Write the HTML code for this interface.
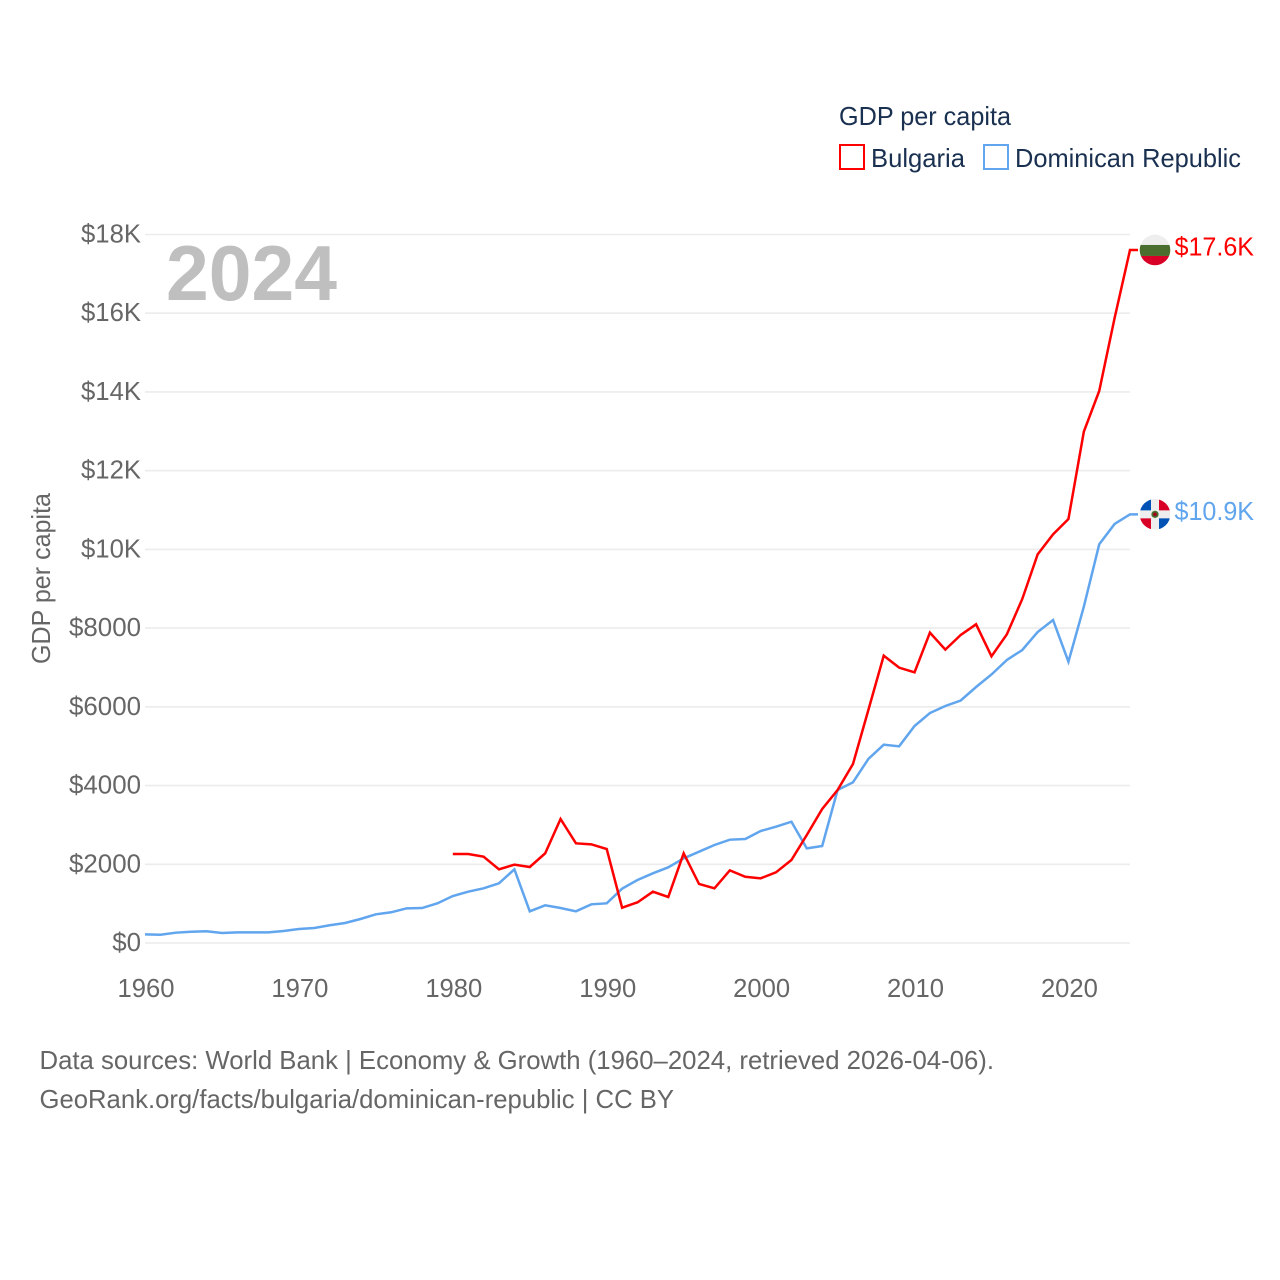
<!DOCTYPE html>
<html lang="en">
<head>
<meta charset="utf-8">
<title>GDP per capita: Bulgaria and Dominican Republic</title>
<style>
html,body{margin:0;padding:0;background:#fff;width:1280px;height:1280px;overflow:hidden}
svg{display:block}
text{font-family:"Liberation Sans",sans-serif;font-size:26px}
</style>
</head>
<body>
<svg id="chart" xmlns="http://www.w3.org/2000/svg" width="1280" height="1280" viewBox="0 0 1280 1280">
  <rect x="0" y="0" width="1280" height="1280" fill="#ffffff"/>
  <g id="grid"></g>
  <g id="yticks"></g>
  <g id="xticks"></g>
  <text x="166" y="300" textLength="171" lengthAdjust="spacingAndGlyphs" style="font-size:78px;font-weight:700" fill="#bfbfbf">2024</text>
  <text transform="translate(50,664) rotate(-90)" textLength="171" lengthAdjust="spacingAndGlyphs" fill="#666666">GDP per capita</text>
  <g id="series"></g>
  <g id="ends"></g>
  <g>
    <text x="839" y="125" textLength="172" lengthAdjust="spacingAndGlyphs" fill="#1a3050">GDP per capita</text>
    <g>
      <rect x="840" y="145" width="24" height="24" fill="#ffffff" stroke="#ff0000" stroke-width="2"/>
      <text x="871" y="167" textLength="94" lengthAdjust="spacingAndGlyphs" fill="#1a3050">Bulgaria</text>
    </g>
    <g>
      <rect x="984" y="145" width="24" height="24" fill="#ffffff" stroke="#60a5ee" stroke-width="2"/>
      <text x="1015" y="167" textLength="226" lengthAdjust="spacingAndGlyphs" fill="#1a3050">Dominican Republic</text>
    </g>
  </g>
  <text x="39.5" y="1069" textLength="954.5" lengthAdjust="spacingAndGlyphs" fill="#666666">Data sources: World Bank | Economy &amp; Growth (1960–2024, retrieved 2026-04-06).</text>
  <text x="39.5" y="1108" textLength="634.5" lengthAdjust="spacingAndGlyphs" fill="#666666">GeoRank.org/facts/bulgaria/dominican-republic | CC BY</text>
</svg>
<script>
var startYear = 1960;
var xTickYears = [1960, 1970, 1980, 1990, 2000, 2010, 2020];
var yTickValues = [0, 2000, 4000, 6000, 8000, 10000, 12000, 14000, 16000, 18000];
var yTickLabels = ["$0", "$2000", "$4000", "$6000", "$8000", "$10K", "$12K", "$14K", "$16K", "$18K"];
var bulgariaValues = [null, null, null, null, null, null, null, null, null, null,
  null, null, null, null, null, null, null, null, null, null,
  2261, 2261, 2193, 1872, 1990, 1931, 2278, 3150, 2532, 2507,
  2388, 897, 1033, 1304, 1169, 2278, 1499, 1389, 1846, 1684,
  1643, 1796, 2108, 2744, 3404, 3887, 4547, 5920, 7300, 6995,
  6877, 7885, 7453, 7825, 8097, 7283, 7843, 8740, 9875, 10383,
  10772, 12990, 14024, 15879, 17607];
var dominicanValues = [220, 211, 262, 287, 297, 254, 271, 271, 271, 305,
  356, 381, 450, 508, 610, 729, 780, 881, 889, 1008,
  1194, 1304, 1389, 1516, 1872, 805, 958, 889, 805, 983,
  1008, 1380, 1600, 1770, 1923, 2151, 2320, 2490, 2625, 2642,
  2845, 2955, 3082, 2405, 2464, 3887, 4082, 4675, 5039, 4997,
  5513, 5843, 6021, 6161, 6504, 6822, 7190, 7444, 7901, 8206,
  7147, 8544, 10130, 10645, 10890];

var SVG_NS = "http://www.w3.org/2000/svg";
function xScale(year) { return 145 + (year - startYear) * (985 / 64); }
function yScale(value) { return 943 - value * (708.5 / 18000); }
function make(tag, attrs, parent) {
  var el = document.createElementNS(SVG_NS, tag);
  for (var k in attrs) el.setAttribute(k, attrs[k]);
  parent.appendChild(el);
  return el;
}
function money(v) { return "$" + (v / 1000).toFixed(1) + "K"; }
function tickWidth(text) { return text.length * 14.4 + (text.indexOf("K") >= 0 ? 2.4 : 0); }

var gridGroup = document.getElementById("grid");
var yGroup = document.getElementById("yticks");
yTickValues.forEach(function (v, i) {
  var line = make("line", {x1: 145, x2: 1130, y1: yScale(v), y2: yScale(v), stroke: "#ececec", "stroke-width": 1.6}, gridGroup);
  
  
  var label = make("text", {x: 141, y: yScale(v) + 8, "text-anchor": "end", fill: "#666666", textLength: tickWidth(yTickLabels[i]), lengthAdjust: "spacingAndGlyphs"}, yGroup);
  
  
  label.textContent = yTickLabels[i];
});

var xGroup = document.getElementById("xticks");
xTickYears.forEach(function (year) {
  var label = make("text", {x: xScale(year) + 1, y: 997, "text-anchor": "middle", fill: "#666666", textLength: 57, lengthAdjust: "spacingAndGlyphs"}, xGroup);
  
  
  label.textContent = year;
});

function linePath(values) {
  var d = "", last = null;
  values.forEach(function (v, i) {
    if (v === null) return;
    var x = xScale(startYear + i), y = yScale(v);
    d += (d ? "L" : "M") + x.toFixed(2) + " " + y.toFixed(2);
    last = y;
  });
  return d + "L1138 " + last.toFixed(2);
}
var seriesGroup = document.getElementById("series");
var dominicanLine = make("path", {d: linePath(dominicanValues), fill: "none", stroke: "#60a5ee", "stroke-width": 2.5, "stroke-linejoin": "miter"}, seriesGroup);


var bulgariaLine = make("path", {d: linePath(bulgariaValues), fill: "none", stroke: "#ff0000", "stroke-width": 2.5, "stroke-linejoin": "miter"}, seriesGroup);



var endsGroup = document.getElementById("ends");
var bgLast = bulgariaValues[bulgariaValues.length - 1];
var drLast = dominicanValues[dominicanValues.length - 1];
var clipDefs = make("defs", {}, endsGroup);
function addClip(id, cy) {
  var clip = make("clipPath", {id: id}, clipDefs);
  make("circle", {cx: 1155, cy: cy, r: 15.3}, clip);
}

var bgY = yScale(bgLast);
addClip("clip-bg", bgY);
var bgFlag = make("g", {"clip-path": "url(#clip-bg)"}, endsGroup);


make("rect", {x: 1139, y: bgY - 16, width: 32, height: 11, fill: "#eeeeee"}, bgFlag);
make("rect", {x: 1139, y: bgY - 5, width: 32, height: 11, fill: "#496e2d"}, bgFlag);
make("rect", {x: 1139, y: bgY + 6, width: 32, height: 11, fill: "#d80027"}, bgFlag);
var bgLabel = make("text", {x: 1174.5, y: bgY + 5.5, fill: "#ff0000", textLength: 79.5, lengthAdjust: "spacingAndGlyphs"}, endsGroup);


bgLabel.textContent = money(bgLast);

var drY = yScale(drLast);
addClip("clip-dr", drY);
var drFlag = make("g", {"clip-path": "url(#clip-dr)"}, endsGroup);


make("rect", {x: 1139, y: drY - 16, width: 32, height: 32, fill: "#eeeeee"}, drFlag);
make("rect", {x: 1139, y: drY - 16, width: 12, height: 12, fill: "#0052b4"}, drFlag);
make("rect", {x: 1159, y: drY - 16, width: 12, height: 12, fill: "#d80027"}, drFlag);
make("rect", {x: 1139, y: drY + 4, width: 12, height: 12, fill: "#d80027"}, drFlag);
make("rect", {x: 1159, y: drY + 4, width: 12, height: 12, fill: "#0052b4"}, drFlag);
make("circle", {cx: 1155, cy: drY, r: 3.6, fill: "#496e2d"}, drFlag);
make("circle", {cx: 1155, cy: drY, r: 1.8, fill: "#a2001d"}, drFlag);
var drLabel = make("text", {x: 1174.5, y: drY + 5.5, fill: "#60a5ee", textLength: 79.5, lengthAdjust: "spacingAndGlyphs"}, endsGroup);


drLabel.textContent = money(drLast);
</script>
</body>
</html>
